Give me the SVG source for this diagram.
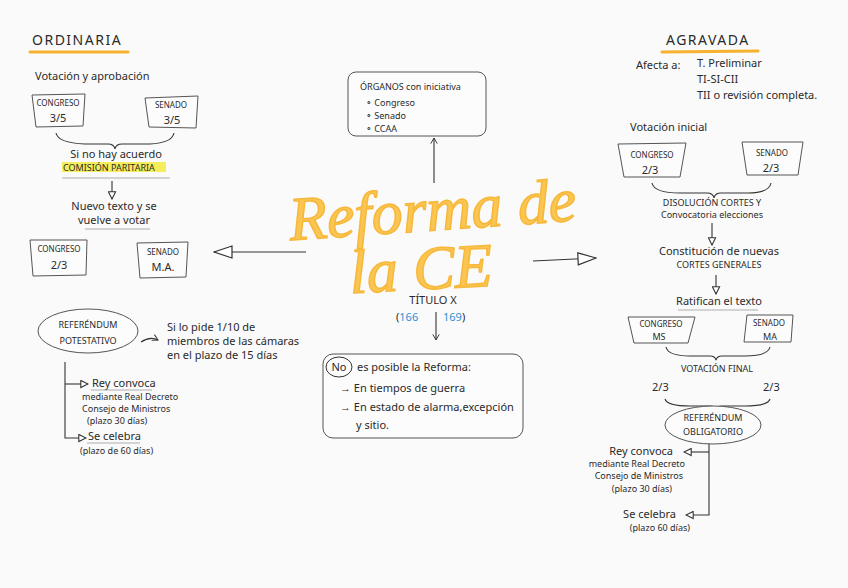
<svg xmlns="http://www.w3.org/2000/svg" width="848" height="588" viewBox="0 0 848 588">
<defs>
<style>
text{font-family:"Noto Sans","Liberation Sans",sans-serif;fill:#2a2a2a;font-size:10px}
.h{font-size:14px;letter-spacing:1.5px}
.m{font-size:11px}
.s{font-size:9px}
.t{font-size:8px}
.c{text-anchor:middle}
.r{text-anchor:end}
.ln{fill:none;stroke:#333;stroke-width:1.1}
.bx{fill:#fcfcfc;stroke:#555;stroke-width:1}
.ul{stroke:#999;stroke-width:0.8}
.big{font-family:"Liberation Serif",serif;font-style:italic;font-size:62px;fill:#fbc552;stroke:#f7b83a;stroke-width:1.5}
.blue{fill:#2e8fd4}
.or{stroke:#f6b22e;stroke-width:3;stroke-linecap:round}
</style>
<marker id="tri" viewBox="0 0 10 10" refX="9" refY="5" markerWidth="9" markerHeight="9" orient="auto" markerUnits="userSpaceOnUse">
<path d="M1,1 L9,5 L1,9 Z" fill="#fff" stroke="#333" stroke-width="1.2"/>
</marker>
<marker id="bigtri" viewBox="0 0 20 14" refX="19" refY="7" markerWidth="20" markerHeight="14" orient="auto" markerUnits="userSpaceOnUse">
<path d="M1,1 L19,7 L1,13 Z" fill="#fff" stroke="#333" stroke-width="1.2"/>
</marker>
<marker id="ah" viewBox="0 0 10 10" refX="9" refY="5" markerWidth="8" markerHeight="8" orient="auto" markerUnits="userSpaceOnUse">
<path d="M2,1 L9,5 L2,9" fill="none" stroke="#333" stroke-width="1.2"/>
</marker>
</defs>
<rect width="848" height="588" fill="#fafafa"/>

<g id="connectors">
<line class="ln" x1="306" y1="252" x2="214" y2="252" marker-end="url(#bigtri)"/>
<line class="ln" x1="533" y1="261" x2="596" y2="258" marker-end="url(#bigtri)"/>
<line class="ln" x1="434" y1="183" x2="434" y2="138" marker-end="url(#ah)"/>
<line class="ln" x1="436" y1="312" x2="436" y2="340" marker-end="url(#ah)"/>
<path class="ln" d="M56,133 Q58,143 85,144 L108,144 Q114,144 115,149 Q116,144 122,144 L150,144 Q172,143 174,133"/>
<line class="ln" x1="112" y1="181" x2="112" y2="199" marker-end="url(#tri)"/>
<path class="ln" d="M141,342 Q150,336 158,340" marker-end="url(#ah)"/>
<path class="ln" d="M65,362 L65,438 L86,438" marker-end="url(#tri)"/>
<line class="ln" x1="65" y1="384" x2="88" y2="384" marker-end="url(#tri)"/>
<path class="ln" d="M652,183 Q654,193 680,193 L707,193 Q713,193 714,198 Q715,193 721,193 L748,193 Q769,193 771,183"/>
<line class="ln" x1="712" y1="223" x2="712" y2="245" marker-end="url(#tri)"/>
<line class="ln" x1="716" y1="275" x2="716" y2="294" marker-end="url(#tri)"/>
<path class="ln" d="M666,347 Q668,356 690,356 L710,356 Q715,356 716,360 Q717,356 722,356 L745,356 Q768,356 770,347"/>
<path class="ln" d="M665,399 Q667,406 690,406 L710,406 Q715,406 716,410 Q717,406 722,406 L745,406 Q768,406 770,399"/>
<path class="ln" d="M709,443 L709,515 L686,515" marker-end="url(#tri)"/>
<line class="ln" x1="709" y1="452" x2="684" y2="452" marker-end="url(#tri)"/>
</g>

<g id="title">
<text class="big" x="290" y="232" transform="rotate(-4 410 230)">Reforma de</text>
<text class="big" x="350" y="290" transform="rotate(-3 410 280)">la CE</text>
<text class="m c" x="433" y="304">TÍTULO X</text>
<text class="m" x="396" y="321">(<tspan class="blue">166</tspan></text>
<text class="m" x="443" y="321"><tspan class="blue">169</tspan>)</text>
</g>

<g id="ordinaria">
<text class="h" x="32" y="45">ORDINARIA</text>
<line class="or" x1="30" y1="52" x2="128" y2="52"/>
<text class="m" x="35" y="80">Votación y aprobación</text>
</g>
<g id="o-congreso">
<path class="bx" d="M32,95 L85,94 L83,126 L36,127 Z"/>
<text class="t c" x="58" y="106">CONGRESO</text>
<text class="m c" x="58" y="122">3/5</text>
</g>
<g id="o-senado">
<path class="bx" d="M145,98 L198,96 L196,128 L149,127 Z"/>
<text class="t c" x="171" y="108">SENADO</text>
<text class="m c" x="172" y="124">3/5</text>
</g>
<g id="o-acuerdo">
<text class="m c" x="116" y="158">Si no hay acuerdo</text>
<rect x="62" y="162" width="104" height="10" fill="#f3ea3c" opacity="0.85"/>
<text class="s" x="63" y="171">COMISIÓN PARITARIA</text>
<line class="ul" x1="62" y1="178" x2="170" y2="178"/>
</g>
<g id="o-nuevo">
<text class="m c" x="114" y="210">Nuevo texto y se</text>
<text class="m c" x="114" y="224">vuelve a votar</text>
<line class="ul" x1="85" y1="229" x2="150" y2="229"/>
</g>
<g id="o-congreso2">
<path class="bx" d="M30,240 L87,240 L86,275 L33,276 Z"/>
<text class="t c" x="59" y="252">CONGRESO</text>
<text class="m c" x="59" y="269">2/3</text>
</g>
<g id="o-senado2">
<path class="bx" d="M137,243 L188,242 L186,277 L140,278 Z"/>
<text class="t c" x="163" y="255">SENADO</text>
<text class="m c" x="163" y="271">M.A.</text>
</g>
<g id="o-referendum">
<ellipse class="bx" cx="88" cy="331" rx="50" ry="22"/>
<text class="s c" x="88" y="328">REFERÉNDUM</text>
<text class="s c" x="88" y="344">POTESTATIVO</text>
</g>
<g id="o-pide">
<text class="m" x="167" y="331">Si lo pide 1/10 de</text>
<text class="m" x="167" y="345">miembros de las cámaras</text>
<text class="m" x="167" y="359">en el plazo de 15 días</text>
</g>
<g id="o-rey">
<text class="m" x="92" y="387">Rey convoca</text>
<line class="ul" x1="91" y1="390" x2="152" y2="390"/>
<text class="s" x="82" y="400">mediante Real Decreto</text>
<text class="s" x="82" y="412">Consejo de Ministros</text>
<text class="s" x="87" y="424">(plazo 30 días)</text>
</g>
<g id="o-celebra">
<text class="m" x="88" y="440">Se celebra</text>
<line class="ul" x1="87" y1="443" x2="140" y2="443"/>
<text class="s" x="80" y="454">(plazo de 60 días)</text>
</g>

<g id="organos">
<rect class="bx" x="348" y="72" width="138" height="64" rx="8"/>
<text class="s" x="360" y="90">ÓRGANOS con iniciativa</text>
<text class="s" x="366" y="106">∘ Congreso</text>
<text class="s" x="366" y="119">∘ Senado</text>
<text class="s" x="366" y="132">∘ CCAA</text>
</g>
<g id="no-posible">
<rect class="bx" x="323" y="354" width="200" height="84" rx="10"/>
<ellipse cx="339" cy="367" rx="13" ry="10" fill="none" stroke="#333" stroke-width="1"/>
<text class="m c" x="339" y="371">No</text>
<text class="m" x="357" y="371">es posible la Reforma:</text>
<text class="m" x="340" y="392">→ En tiempos de guerra</text>
<text class="m" x="340" y="411">→ En estado de alarma,excepción</text>
<text class="m" x="356" y="429">y sitio.</text>
</g>

<g id="agravada">
<text class="h" x="666" y="45">AGRAVADA</text>
<line class="or" x1="662" y1="52" x2="758" y2="51"/>
<text class="m" x="636" y="69">Afecta a:</text>
<text class="m" x="697" y="67">T. Preliminar</text>
<text class="m" x="697" y="83">TI-SI-CII</text>
<text class="m" x="697" y="99">TII o revisión completa.</text>
<text class="m" x="630" y="131">Votación inicial</text>
</g>
<g id="a-congreso">
<path class="bx" d="M618,144 L686,143 L680,177 L624,177 Z"/>
<text class="t c" x="652" y="158">CONGRESO</text>
<text class="m c" x="650" y="174">2/3</text>
</g>
<g id="a-senado">
<path class="bx" d="M742,142 L803,142 L798,175 L747,175 Z"/>
<text class="t c" x="772" y="156">SENADO</text>
<text class="m c" x="771" y="172">2/3</text>
</g>
<g id="a-disolucion">
<text class="s c" x="712" y="206">DISOLUCIÓN CORTES Y</text>
<text class="s c" x="712" y="218">Convocatoria elecciones</text>
</g>
<g id="a-constitucion">
<text class="m c" x="719" y="255">Constitución de nuevas</text>
<text class="s c" x="719" y="268">CORTES GENERALES</text>
</g>
<g id="a-ratifican">
<text class="m c" x="719" y="305">Ratifican el texto</text>
<line class="ul" x1="678" y1="310" x2="758" y2="310"/>
</g>
<g id="a-congreso2">
<path class="bx" d="M628,317 L695,317 L688,343 L634,343 Z"/>
<text class="t c" x="661" y="327">CONGRESO</text>
<text class="s c" x="659" y="340">MS</text>
</g>
<g id="a-senado2">
<path class="bx" d="M747,315 L793,315 L791,342 L744,342 Z"/>
<text class="t c" x="769" y="326">SENADO</text>
<text class="s c" x="770" y="340">MA</text>
</g>
<g id="a-final">
<text class="s c" x="717" y="372">VOTACIÓN FINAL</text>
<text class="m" x="652" y="391">2/3</text>
<text class="m" x="763" y="391">2/3</text>
</g>
<g id="a-referendum">
<ellipse class="bx" cx="713" cy="425" rx="48" ry="19"/>
<text class="s c" x="713" y="421">REFERÉNDUM</text>
<text class="s c" x="713" y="435">OBLIGATORIO</text>
</g>
<g id="a-rey">
<text class="m r" x="673" y="455">Rey convoca</text>
<text class="s r" x="685" y="467">mediante Real Decreto</text>
<text class="s r" x="683" y="479">Consejo de Ministros</text>
<text class="s r" x="672" y="492">(plazo 30 días)</text>
</g>
<g id="a-celebra">
<text class="m r" x="676" y="518">Se celebra</text>
<text class="s r" x="690" y="531">(plazo 60 días)</text>
</g>
</svg>
